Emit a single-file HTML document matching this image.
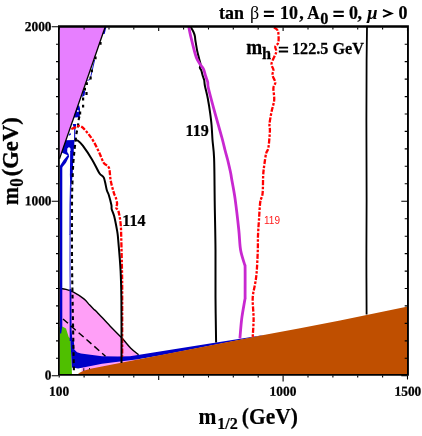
<!DOCTYPE html>
<html><head><meta charset="utf-8"><title>plot</title>
<style>
html,body{margin:0;padding:0;background:#fff;}
body{width:422px;height:436px;overflow:hidden;font-family:"Liberation Serif",serif;}
svg{display:block;will-change:transform;}
</style></head><body>
<svg width="422" height="436" viewBox="0 0 422 436">
<rect width="422" height="436" fill="#fff"/>
<path d="M59.5,288.3 C60.6,288.5 63.7,288.8 66.0,289.4 C68.3,290.0 70.5,290.6 73.5,292.2 C76.5,293.8 81.2,296.8 83.9,298.9 C86.6,301.0 87.8,303.1 89.5,304.8 C91.2,306.6 92.8,308.2 94.0,309.4 C95.2,310.6 94.2,309.1 96.9,311.9 C99.6,314.7 105.9,321.7 110.0,326.0 C114.1,330.3 118.2,334.1 121.7,337.8 C125.2,341.5 128.0,345.4 130.8,348.2 C133.6,351.0 137.3,353.6 138.6,354.7 L138.6,372 L81.6,372 L81.6,368 L59.5,368 Z" fill="#ff9ff7"/>
<path d="M59.5,288.3 C60.6,288.5 63.7,288.8 66.0,289.4 C68.3,290.0 70.5,290.6 73.5,292.2 C76.5,293.8 81.2,296.8 83.9,298.9 C86.6,301.0 87.8,303.1 89.5,304.8 C91.2,306.6 92.8,308.2 94.0,309.4 C95.2,310.6 94.2,309.1 96.9,311.9 C99.6,314.7 105.9,321.7 110.0,326.0 C114.1,330.3 118.2,334.1 121.7,337.8 C125.2,341.5 128.0,345.4 130.8,348.2 C133.6,351.0 137.3,353.6 138.6,354.7" fill="none" stroke="#000" stroke-width="1.4"/>
<path d="M59.5,375.0 L59.5,327.0 L62.3,326.6 L66.0,328.4 L68.7,337.0 L70.5,338.7 L70.6,345.0 L71.4,357.0 L72.0,375.0Z" fill="#4fbf00"/>
<path d="M70.5,340.0 L73.8,340.0 L74.3,349.5 L77.0,352.2 L81.0,353.4 L90.4,354.7 L102.0,356.2 L117.8,356.6 L130.0,356.3 L210.0,343.6 L264.0,335.0 L264.0,335.3 L210.0,345.8 L160.0,355.4 L138.0,359.3 L120.0,361.6 L102.0,363.8 L93.3,365.6 L85.7,367.0 L78.1,368.4 L72.0,367.6 L71.4,357.0 L70.6,345.0 Z" fill="#0000c8"/>
<path d="M77.6,374.2 L80.0,372.4 L83.8,370.7 L90.4,368.8 L102.0,366.5 L130.0,361.0 L210.0,345.5 L265.0,334.8 L300.0,328.2 L340.0,320.6 L407.8,306.4 L407.8,375 L77.6,375 Z" fill="#bf4f00"/>
<path d="M83.8,368.2 V371 M89.5,368 V369.4" stroke="#000" stroke-width="0.9" fill="none"/>
<path d="M60,167 L62.3,167 L62.3,326 L61.2,333.5 L60,333.5 Z" fill="#0000c8"/>
<path d="M70.2,151 L73.5,151 L72.7,175 L71.3,186 L70.2,186 L69.9,175 Z" fill="#0000c8"/>
<path d="M70.7,185 L70.2,205 L70.1,235" stroke="#2a2ad4" stroke-width="1.5" fill="none"/>
<path d="M70.1,234 L70,260 L70.2,291" stroke="#4646da" stroke-width="1.25" fill="none"/>
<path d="M69.6,289 L71.4,289 L71.6,330 L72.4,341 L69.7,341 Z" fill="#0000c8"/>
<path d="M65.4,140.3 L74.6,140.0 L73.6,152.0 L70.6,152.0 L70.5,148.5 L69.0,147.0 L67.3,148.5 L67.2,152.0 L68.6,154.0 L69.1,156.4 L66.0,162.8 L61.3,168.5 L60.0,168.5 L60.0,165.8 L63.5,160.3 L67.7,155.2 L61.7,152.5 L62.4,149.3Z" fill="#0000c8"/>
<path d="M72.7,124 L76.3,124 L75.4,129.3 L75.1,140.3 L74.1,140.3 L74.2,129.3 Z" fill="#0000c8"/>
<path d="M68.4,135.3 L70.2,132.8 L71,134.6 L69.6,135.6 Z" fill="#0000c8"/>
<path d="M104.2,27 L106.4,27 L104.6,34 L102,34 Z" fill="#0000c8"/>
<path d="M94.6,60 L91,75.6 L89.8,79.6 L87.4,80.4" stroke="#0000c8" stroke-width="0.9" fill="none"/>
<path d="M83,90.5 L85.2,90.5 L84.6,95.5 L82,97 Z" fill="#0000c8"/>
<path d="M74,105.5 L79.2,105.5 L80,108.5 L79.8,117.2 L74,117.4 Z" fill="#0000c8"/>
<path d="M79.4,116.5 C79.3,117.2 78.8,118.7 78.6,120.4 C78.3,122.1 78.2,124.6 77.9,126.8 C77.6,129.0 77.0,130.1 76.5,133.5 C76.0,136.9 75.2,144.0 74.8,147.4 C74.4,150.8 74.3,151.8 74.1,154.2 C73.9,156.6 73.6,159.3 73.4,161.7 C73.2,164.1 73.2,163.8 73.0,168.5 C72.8,173.2 72.4,183.1 72.2,190.0 C72.0,196.9 72.0,198.3 72.0,210.0 C72.0,221.7 71.9,245.0 72.0,260.0 C72.1,275.0 72.4,286.7 72.6,300.0 C72.8,313.3 73.1,328.2 73.3,340.0 C73.5,351.8 73.8,365.4 73.9,370.5" stroke="#000" stroke-width="2.1" stroke-dasharray="3.8 3.35" stroke-dashoffset="0" fill="none"/>
<path d="M59.5,26 L105.5,26 L59.5,157.5 Z" fill="#e77fff"/>
<path d="M105.5,26 L59.5,158.8" stroke="#000" stroke-width="1.3" fill="none"/>
<path d="M99.4,42.0h2.2v2.8h-2.2z M94.4,56.4h2.2v2.8h-2.2z M90.7,69.5h2.2v2.8h-2.2z M89.5,76.6h2.2v2.8h-2.2z M85.7,82.3h2.2v2.8h-2.2z M83.8,87.8h2.2v2.8h-2.2z M85.4,92.1h2.2v2.8h-2.2z M82.0,97.6h2.2v2.8h-2.2z M82.0,104.7h2.2v2.8h-2.2z M79.0,111.6h2.2v2.8h-2.2z" fill="#000"/>
<circle cx="77.9" cy="111" r="0.9" fill="#fff"/>
<path d="M63,319 L105.5,356.2" stroke="#000" stroke-width="1.4" stroke-dasharray="6.6 3.8" fill="none"/>
<path d="M71.3,129.0 C71.9,128.8 74.0,128.0 75.0,127.6 C76.0,127.2 76.5,126.7 77.3,126.4 C78.1,126.1 78.9,125.8 79.8,126.0 C80.7,126.2 81.4,126.4 82.8,127.7 C84.2,129.0 86.4,131.4 88.3,133.8 C90.2,136.2 92.1,138.8 93.9,142.0 C95.8,145.2 97.7,149.5 99.4,153.0 C101.1,156.5 102.3,160.7 103.9,163.1 C105.5,165.5 107.8,164.8 108.9,167.7 C110.0,170.6 109.9,176.3 110.7,180.6 C111.5,184.9 113.2,190.7 114.0,193.4 C114.8,196.1 115.1,195.3 115.6,197.0 C116.1,198.7 117.0,201.7 117.1,203.5 C117.2,205.3 116.0,206.5 116.2,207.8 C116.4,209.1 117.8,208.8 118.5,211.4 C119.2,214.0 120.1,218.6 120.6,223.4 C121.1,228.2 121.1,232.1 121.3,240.0 C121.5,247.9 121.8,261.0 122.0,271.0 C122.2,281.0 122.2,285.7 122.2,300.0 C122.2,314.3 122.2,347.5 122.2,357.0" stroke="#f00" stroke-width="2.3" stroke-dasharray="5 1.5 2.6 1.5" fill="none"/>
<path d="M74.7,140.5 C75.2,140.6 76.7,139.9 78.0,140.8 C79.3,141.7 80.5,142.6 82.8,145.7 C85.1,148.8 89.2,154.8 92.0,159.4 C94.8,164.0 97.4,170.1 99.4,173.2 C101.4,176.3 102.7,175.1 103.9,177.8 C105.1,180.6 105.9,186.8 106.7,189.7 C107.5,192.6 108.0,192.4 108.8,195.0 C109.6,197.6 110.9,202.6 111.4,205.0 C111.9,207.4 111.2,207.3 111.7,209.2 C112.2,211.1 113.3,212.7 114.2,216.3 C115.1,219.9 116.4,226.7 117.1,230.6 C117.8,234.5 117.6,233.3 118.2,240.0 C118.8,246.7 120.1,261.0 120.6,271.0 C121.1,281.0 121.2,284.7 121.4,300.0 C121.6,315.3 121.5,352.5 121.5,363.0" stroke="#000" stroke-width="2" fill="none"/>
<path d="M190.7,27.0 C191.2,27.8 192.8,30.5 193.5,32.0 C194.2,33.5 194.6,34.8 194.9,36.2 C195.2,37.6 195.0,38.1 195.4,40.5 C195.8,42.9 196.5,47.3 197.1,50.4 C197.7,53.5 198.6,56.6 199.2,59.0 C199.8,61.4 200.5,63.3 200.6,64.7 C200.7,66.1 199.7,66.6 199.8,67.6 C199.9,68.5 200.8,69.0 201.3,70.4 C201.8,71.8 202.3,74.4 202.8,76.0 C203.3,77.6 203.8,78.4 204.2,80.0 C204.5,81.6 204.3,82.6 204.9,85.7 C205.5,88.8 207.0,94.2 207.8,98.5 C208.6,102.8 209.3,106.8 209.9,111.3 C210.5,115.8 211.2,120.7 211.6,125.5 C212.0,130.3 212.1,134.5 212.5,140.0 C212.9,145.5 213.7,148.2 214.1,158.4 C214.5,168.6 214.5,185.7 214.7,201.0 C214.9,216.3 215.4,234.0 215.5,250.0 C215.6,266.0 215.4,281.6 215.5,297.0 C215.6,312.4 216.0,334.8 216.1,342.4" stroke="#000" stroke-width="2" fill="none"/>
<path d="M188.8,27.0 C189.1,28.5 189.9,32.8 190.7,36.2 C191.5,39.6 192.6,44.0 193.5,47.6 C194.4,51.2 195.3,54.9 196.4,57.6 C197.5,60.3 198.7,62.1 199.9,64.0 C201.1,65.9 202.6,67.0 203.5,69.0 C204.4,71.0 204.9,73.8 205.6,76.0 C206.3,78.2 207.2,80.0 207.7,82.0 C208.2,84.0 207.2,82.9 208.4,88.2 C209.7,93.5 212.9,105.5 215.2,113.8 C217.5,122.1 220.4,132.0 222.0,138.0 C223.6,144.0 224.1,146.3 225.0,150.0 C225.9,153.7 226.8,156.2 227.7,160.0 C228.6,163.8 230.0,169.7 230.6,172.7 C231.2,175.7 230.8,173.6 231.5,178.0 C232.2,182.4 233.9,190.2 235.1,198.9 C236.3,207.6 237.9,221.5 238.8,230.0 C239.7,238.5 239.6,244.2 240.6,250.0 C241.6,255.8 243.8,261.5 244.6,264.5 C245.3,267.5 245.0,262.8 245.1,268.0 C245.2,273.2 245.1,290.7 245.1,296.0 C245.1,301.3 245.4,296.2 244.8,300.0 C244.2,303.8 242.5,312.4 241.7,318.8 C240.9,325.2 240.2,335.2 239.9,338.5" stroke="#c828d0" stroke-width="2.8" fill="none"/>
<path d="M274.0,27.5 C274.7,28.1 277.3,28.8 278.0,31.2 C278.7,33.6 278.8,39.6 278.4,42.2 C277.9,44.8 275.7,45.1 275.3,46.8 C274.9,48.5 276.8,49.5 276.2,52.3 C275.6,55.0 272.1,60.4 271.6,63.3 C271.1,66.2 273.2,67.7 273.4,69.7 C273.5,71.7 272.2,73.1 272.5,75.2 C272.8,77.3 275.2,80.4 275.3,82.5 C275.4,84.6 273.6,85.1 273.4,88.0 C273.2,90.9 274.5,96.2 274.2,100.0 C273.9,103.8 272.5,107.0 271.7,111.0 C270.9,115.0 269.8,120.5 269.5,123.9 C269.2,127.3 270.1,127.2 269.9,131.2 C269.7,135.2 269.0,144.0 268.4,147.7 C267.8,151.4 266.9,150.4 266.2,153.2 C265.5,155.9 264.9,160.6 264.4,164.2 C263.9,167.8 263.5,170.2 263.2,175.0 C262.9,179.8 263.1,188.7 262.6,193.3 C262.1,197.9 260.8,197.9 260.2,202.5 C259.6,207.1 259.3,215.4 258.9,220.9 C258.5,226.4 258.2,230.7 258.0,235.5 C257.8,240.3 258.0,243.8 257.8,250.0 C257.6,256.2 257.1,267.3 256.6,273.0 C256.1,278.7 255.7,280.2 255.0,284.4 C254.3,288.6 252.9,292.5 252.7,298.2 C252.5,303.9 253.6,312.3 253.6,318.8 C253.6,325.3 252.8,334.1 252.7,337.2" stroke="#f00" stroke-width="2.3" stroke-dasharray="5 1.5 2.6 1.5" fill="none"/>
<path d="M367.0,27.0 C366.9,32.5 366.7,44.5 366.6,60.0 C366.5,75.5 366.4,96.7 366.4,120.0 C366.4,143.3 366.6,176.7 366.6,200.0 C366.6,223.3 366.4,240.9 366.4,260.0 C366.4,279.1 366.6,305.3 366.6,314.4" stroke="#000" stroke-width="1.8" fill="none"/>
<path d="M58,25.3H408.9V27.7H58z M58,374H408.9V375.7H58z M58,25.4H59.8V375.7H58z M407,25.4H408.9V375.7H407z" fill="#000"/>
<path d="M58.2,375.8 H51.7 M407.2,375.8 H401.3 M58.2,358.3 H56.0 M407.2,358.3 H404.7 M58.2,340.9 H56.0 M407.2,340.9 H404.7 M58.2,323.4 H56.0 M407.2,323.4 H404.7 M58.2,305.9 H56.0 M407.2,305.9 H404.7 M58.2,288.5 H56.0 M407.2,288.5 H404.7 M58.2,271.1 H56.0 M407.2,271.1 H404.7 M58.2,253.6 H56.0 M407.2,253.6 H404.7 M58.2,236.2 H56.0 M407.2,236.2 H404.7 M58.2,218.7 H56.0 M407.2,218.7 H404.7 M58.2,201.2 H51.7 M407.2,201.2 H401.3 M58.2,183.8 H56.0 M407.2,183.8 H404.7 M58.2,166.3 H56.0 M407.2,166.3 H404.7 M58.2,148.9 H56.0 M407.2,148.9 H404.7 M58.2,131.4 H56.0 M407.2,131.4 H404.7 M58.2,114.0 H56.0 M407.2,114.0 H404.7 M58.2,96.6 H56.0 M407.2,96.6 H404.7 M58.2,79.1 H56.0 M407.2,79.1 H404.7 M58.2,61.6 H56.0 M407.2,61.6 H404.7 M58.2,44.2 H56.0 M407.2,44.2 H404.7 M58.2,26.8 H51.7 M407.2,26.8 H401.3 M59.2,375.5 V377.6 M59.2,27.4 V29.6 M84.1,375.5 V377.6 M84.1,27.4 V29.6 M109.0,375.5 V377.6 M109.0,27.4 V29.6 M133.8,375.5 V377.6 M133.8,27.4 V29.6 M158.7,375.5 V380.0 M158.7,27.4 V31.0 M183.6,375.5 V377.6 M183.6,27.4 V29.6 M208.5,375.5 V377.6 M208.5,27.4 V29.6 M233.3,375.5 V377.6 M233.3,27.4 V29.6 M258.2,375.5 V377.6 M258.2,27.4 V29.6 M283.1,375.5 V381.4 M283.1,27.4 V31.0 M308.0,375.5 V377.6 M308.0,27.4 V29.6 M332.9,375.5 V377.6 M332.9,27.4 V29.6 M357.7,375.5 V377.6 M357.7,27.4 V29.6 M382.6,375.5 V377.6 M382.6,27.4 V29.6 M407.5,375.5 V379.6 M407.5,27.4 V31.0" stroke="#000" stroke-width="1.1" fill="none"/>
<text transform="translate(24.80,31.00) rotate(0.06) scale(0.985,1.000)" font-size="13.60" stroke="#000" stroke-width="0.25"  font-family="Liberation Serif" font-weight="bold">2000</text>
<text transform="translate(24.80,205.30) rotate(0.06) scale(0.985,1.000)" font-size="13.60" stroke="#000" stroke-width="0.25"  font-family="Liberation Serif" font-weight="bold">1000</text>
<text transform="translate(44.70,379.40) rotate(0.06) scale(0.985,1.000)" font-size="13.60" stroke="#000" stroke-width="0.25"  font-family="Liberation Serif" font-weight="bold">0</text>
<text transform="translate(49.00,395.70) rotate(0.06) scale(0.985,1.000)" font-size="13.60" stroke="#000" stroke-width="0.25"  font-family="Liberation Serif" font-weight="bold">100</text>
<text transform="translate(269.60,395.70) rotate(0.06) scale(0.985,1.000)" font-size="13.60" stroke="#000" stroke-width="0.25"  font-family="Liberation Serif" font-weight="bold">1000</text>
<text transform="translate(394.50,395.70) rotate(0.06) scale(0.985,1.000)" font-size="13.60" stroke="#000" stroke-width="0.25"  font-family="Liberation Serif" font-weight="bold">1500</text>
<text transform="translate(219.10,19.00) scale(0.955,1.000)" font-size="18.80" stroke="#000" stroke-width="0.25"  font-family="Liberation Serif" font-weight="bold">tan</text>
<text transform="translate(249.90,19.00) scale(0.950,1.000)" font-size="19.00" stroke="#000" stroke-width="0.00" font-weight="normal" font-family="Liberation Serif">β</text>
<text transform="translate(280.10,19.00) scale(0.955,1.000)" font-size="18.80" stroke="#000" stroke-width="0.25"  font-family="Liberation Serif" font-weight="bold">10</text>
<text transform="translate(299.20,19.00) scale(0.955,1.000)" font-size="18.80" stroke="#000" stroke-width="0.25"  font-family="Liberation Serif" font-weight="bold">,</text>
<text transform="translate(307.20,19.00) scale(0.930,1.000)" font-size="18.40" stroke="#000" stroke-width="0.25"  font-family="Liberation Serif" font-weight="bold">A</text>
<text transform="translate(320.20,23.70) scale(0.950,1.000)" font-size="17.20" stroke="#000" stroke-width="0.25"  font-family="Liberation Serif" font-weight="bold">0</text>
<text transform="translate(349.00,19.00) scale(0.955,1.000)" font-size="18.80" stroke="#000" stroke-width="0.25"  font-family="Liberation Serif" font-weight="bold">0</text>
<text transform="translate(357.60,19.00) scale(0.955,1.000)" font-size="18.80" stroke="#000" stroke-width="0.25"  font-family="Liberation Serif" font-weight="bold">,</text>
<text transform="translate(367.20,19.00) scale(0.950,1.000)" font-size="19.50" stroke="#000" stroke-width="0.10" font-style="italic" font-family="Liberation Serif" font-weight="bold">μ</text>
<text transform="translate(398.60,19.00) scale(0.955,1.000)" font-size="18.80" stroke="#000" stroke-width="0.25"  font-family="Liberation Serif" font-weight="bold">0</text>
<path d="M263.9,10.8h10v1.9h-10z M263.9,15.1h10v1.9h-10z M333.4,10.8h10.4v1.9h-10.4z M333.4,15.1h10.4v1.9h-10.4z"/>
<path d="M383,9.9 L391.4,13.4 L383,16.9" fill="none" stroke="#000" stroke-width="2"/>
<text transform="translate(246.30,53.80) scale(0.950,1.000)" font-size="20.20" stroke="#000" stroke-width="0.25"  font-family="Liberation Serif" font-weight="bold">m</text>
<text transform="translate(262.00,58.60) scale(0.950,1.000)" font-size="17.20" stroke="#000" stroke-width="0.25"  font-family="Liberation Serif" font-weight="bold">h</text>
<text transform="translate(292.00,53.80) scale(0.958,1.000)" font-size="16.90" stroke="#000" stroke-width="0.25"  font-family="Liberation Serif" font-weight="bold">122.5 GeV</text>
<path d="M278.8,46.7h9.3v1.9h-9.3z M278.8,50.6h9.3v1.9h-9.3z"/>
<text transform="translate(185.50,136.00) scale(0.955,1.000)" font-size="16.80" stroke="#000" stroke-width="0.25"  font-family="Liberation Serif" font-weight="bold">119</text>
<text transform="translate(122.30,226.40) scale(0.955,1.000)" font-size="16.80" stroke="#000" stroke-width="0.25"  font-family="Liberation Serif" font-weight="bold">114</text>
<text x="264" y="223.6" font-size="10" font-family="Liberation Sans" fill="#ff1a1a">119</text>
<text transform="translate(198.60,424.20) scale(0.955,1.000)" font-size="22.50" stroke="#000" stroke-width="0.20"  font-family="Liberation Serif" font-weight="bold">m</text>
<text transform="translate(217.30,429.20) scale(0.950,1.000)" font-size="17.00" stroke="#000" stroke-width="0.20"  font-family="Liberation Serif" font-weight="bold">1/2</text>
<text transform="translate(241.80,424.20) scale(0.955,1.000)" font-size="22.50" stroke="#000" stroke-width="0.20"  font-family="Liberation Serif" font-weight="bold">(GeV)</text>
<text transform="translate(17.90,205.00) rotate(-90) scale(1.000,1.070)" font-size="21.60" stroke="#000" stroke-width="0.30"  font-family="Liberation Serif" font-weight="bold">m</text>
<text transform="translate(23.10,186.80) rotate(-90) scale(1.000,1.070)" font-size="17.00" stroke="#000" stroke-width="0.30"  font-family="Liberation Serif" font-weight="bold">0</text>
<text transform="translate(17.90,176.20) rotate(-90) scale(1.045,1.070)" font-size="21.60" stroke="#000" stroke-width="0.30"  font-family="Liberation Serif" font-weight="bold">(GeV)</text>
</svg>
</body></html>
